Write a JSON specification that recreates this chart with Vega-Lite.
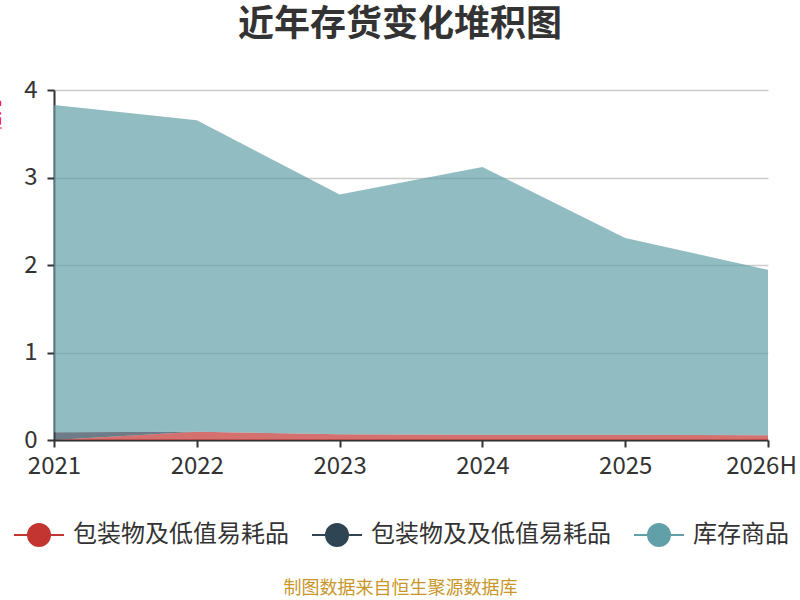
{
  "$schema": "https://vega.github.io/schema/vega-lite/v6.json",
  "width": 714,
  "height": 350,
  "autosize": {"type": "none"},
  "padding": {"left": 54, "top": 90, "right": 32, "bottom": 160},
  "background": "white",
  "config": {
    "font": "Noto Sans CJK SC",
    "view": {"stroke": null}
  },
  "title": {
    "text": "近年存货变化堆积图",
    "fontSize": 36,
    "fontWeight": "bold",
    "color": "#333333",
    "anchor": "middle",
    "baseline": "bottom",
    "offset": 0,
    "dx": -11,
    "dy": 2
  },
  "data": {
    "values": [
      {"year": "2021", "series": "包装物及低值易耗品", "value": 0.0},
      {"year": "2022", "series": "包装物及低值易耗品", "value": 0.095},
      {"year": "2023", "series": "包装物及低值易耗品", "value": 0.065},
      {"year": "2024", "series": "包装物及低值易耗品", "value": 0.06},
      {"year": "2025", "series": "包装物及低值易耗品", "value": 0.06},
      {"year": "2026H", "series": "包装物及低值易耗品", "value": 0.055},
      {"year": "2021", "series": "包装物及及低值易耗品", "value": 0.09},
      {"year": "2022", "series": "包装物及及低值易耗品", "value": 0.0},
      {"year": "2023", "series": "包装物及及低值易耗品", "value": 0.0},
      {"year": "2024", "series": "包装物及及低值易耗品", "value": 0.0},
      {"year": "2025", "series": "包装物及及低值易耗品", "value": 0.0},
      {"year": "2026H", "series": "包装物及及低值易耗品", "value": 0.0},
      {"year": "2021", "series": "库存商品", "value": 3.74},
      {"year": "2022", "series": "库存商品", "value": 3.56},
      {"year": "2023", "series": "库存商品", "value": 2.74},
      {"year": "2024", "series": "库存商品", "value": 3.06},
      {"year": "2025", "series": "库存商品", "value": 2.25},
      {"year": "2026H", "series": "库存商品", "value": 1.89}
    ]
  },
  "mark": {"type": "area", "opacity": 0.7},
  "encoding": {
    "x": {
      "field": "year",
      "type": "ordinal",
      "scale": {"type": "point", "padding": 0},
      "axis": {
        "labelAngle": 0,
        "labelFontSize": 24,
        "labelColor": "#333333",
        "labelPadding": 7,
        "labelOverlap": false,
        "labelOffset": {"expr": "datum.value === '2026H' ? -7 : 0"},
        "domainColor": "#333333",
        "domainWidth": 2,
        "tickColor": "#333333",
        "tickWidth": 2,
        "tickSize": 7,
        "grid": false,
        "title": "制图数据来自恒生聚源数据库",
        "titleColor": "#c9962a",
        "titleFontSize": 18,
        "titleFontWeight": "normal",
        "titleX": 346,
        "titleY": 148,
        "titleAlign": "center",
        "titleBaseline": "middle"
      }
    },
    "y": {
      "field": "value",
      "type": "quantitative",
      "stack": "zero",
      "scale": {"domain": [0, 4], "nice": false},
      "axis": {
        "values": [0, 1, 2, 3, 4],
        "labelFontSize": 24,
        "labelColor": "#333333",
        "labelPadding": 10,
        "domainColor": "#333333",
        "domainWidth": 2,
        "tickColor": "#333333",
        "tickWidth": 2,
        "tickSize": 7,
        "gridColor": "#cccccc",
        "gridWidth": 1.5,
        "title": "亿元",
        "titleColor": "#ff0000",
        "titleFontSize": 16,
        "titleFontWeight": "normal",
        "titleX": -52,
        "titleY": 25,
        "titleAlign": "center",
        "titleBaseline": "bottom"
      }
    },
    "color": {
      "field": "series",
      "type": "nominal",
      "scale": {
        "domain": ["包装物及低值易耗品", "包装物及及低值易耗品", "库存商品"],
        "range": ["#c23531", "#2f4554", "#61a0a8"]
      },
      "legend": {
        "orient": "none",
        "legendX": -41,
        "legendY": 419,
        "direction": "horizontal",
        "title": null,
        "labelFontSize": 24,
        "labelLimit": 400,
        "labelColor": "#333333",
        "labelOffset": 8,
        "columnPadding": 19,
        "symbolType": "M -1 0 L -0.44 0 M 0.44 0 A 0.44 0.44 0 1 1 -0.44 0 A 0.44 0.44 0 1 1 0.44 0 M 0.44 0 L 1 0",
        "symbolSize": 2500,
        "symbolOpacity": 1,
        "symbolStrokeWidth": 2,
        "encode": {
          "symbols": {
            "update": {
              "stroke": {"scale": "color", "field": "value"},
              "fill": {"scale": "color", "field": "value"}
            }
          }
        }
      }
    },
    "order": {"field": "series", "type": "nominal", "sort": "ascending"}
  }
}
